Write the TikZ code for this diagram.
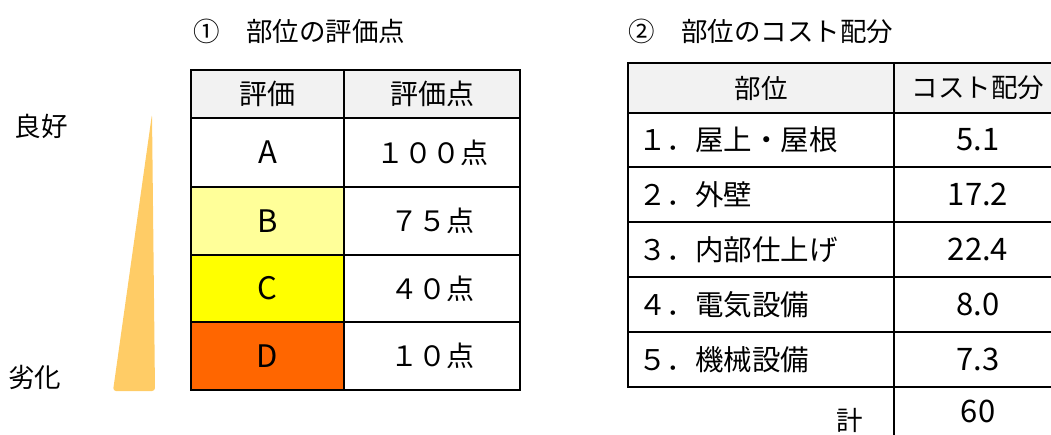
\documentclass[tikz,border=0pt]{standalone}
\usepackage{fontspec}
\setmainfont{Noto Sans CJK JP}

\definecolor{headgray}{HTML}{F2F2F2}
\definecolor{rankB}{HTML}{FFFF99}
\definecolor{rankC}{HTML}{FFFF00}
\definecolor{rankD}{HTML}{FF6600}
\definecolor{wedge}{HTML}{FFCC66}

\tikzset{
  cell/.style={draw=black, line width=2pt, inner sep=0pt, outer sep=0pt},
  lcolone/.style={cell, minimum width=153pt},
  lcoltwo/.style={cell, minimum width=176pt, font=\fontsize{28}{30}\selectfont},
  rcolone/.style={cell, text width=246pt, inner xsep=10pt, align=left, font=\fontsize{28.5}{30}\selectfont},
  rcoltwo/.style={cell, minimum width=168pt},
  bigletter/.style={font=\fontsize{31}{31}\selectfont},
  bignum/.style={font=\fontsize{31}{31}\selectfont}
}

\begin{document}
\begin{tikzpicture}[x=1pt, y=-1pt, font=\fontsize{26.5}{30}\selectfont]
        \useasboundingbox (0,0) rectangle (1051,435);

        % titles
        \node[anchor=west, inner sep=0pt] (title-one) at (193,31) {①　部位の評価点};
        \node[anchor=west, inner sep=0pt] (title-two) at (628,31) {②　部位のコスト配分};

        % scale on the left
        \fill[wedge, rounded corners=3pt] (152,114) -- (155,391) -- (113,391) -- cycle;
        \node[inner sep=0pt] (good) at (41,126) {良好};
        \node[inner sep=0pt] (bad) at (35,377) {劣化};

        % table 1
        \node[lcolone, fill=headgray, minimum height=48pt, font=\fontsize{28}{30}\selectfont] (head-rank) at (267.5,94) {評価};
        \node[lcoltwo, fill=headgray, minimum height=48pt] (head-point) at (432,94) {評価点};
        \foreach \k/\yc/\hh/\fc/\lt/\pts in {a/152.5/69/white/A/１００点, b/221/68/rankB/B/７５点,
                                             c/288.5/67/rankC/C/４０点, d/356/68/rankD/D/１０点}{
          \node[lcolone, fill=\fc, minimum height=\hh pt, bigletter] (rank-\k) at (267.5,\yc) {\lt};
          \node[lcoltwo, minimum height=\hh pt] (point-\k) at (432,\yc) {\pts};
        }

        % table 2
        \node[cell, fill=headgray, minimum width=266pt, minimum height=50pt] (head-part) at (761,88) {部位};
        \node[rcoltwo, fill=headgray, minimum height=50pt] (head-cost) at (978,88) {コスト配分};
        \foreach \k/\yc/\hh/\lab/\val in {1/140/54/１．屋上・屋根/5.1, 2/194.5/55/２．外壁/17.2,
                                          3/249.5/55/３．内部仕上げ/22.4, 4/304.5/55/４．電気設備/8.0,
                                          5/359.5/55/５．機械設備/7.3}{
          \node[rcolone, minimum height=\hh pt] (part-\k) at (761,\yc) {\lab};
          \node[rcoltwo, minimum height=\hh pt, bignum] (cost-\k) at (978,\yc) {\val};
        }
        \draw[line width=2pt] (cost-5.south west) -- ++(0,60);
        \node[inner sep=0pt, bignum] (total) at (978,411) {60};
        \node[inner sep=0pt] (total-label) at (850,420) {計};
    \end{tikzpicture}
\end{document}
